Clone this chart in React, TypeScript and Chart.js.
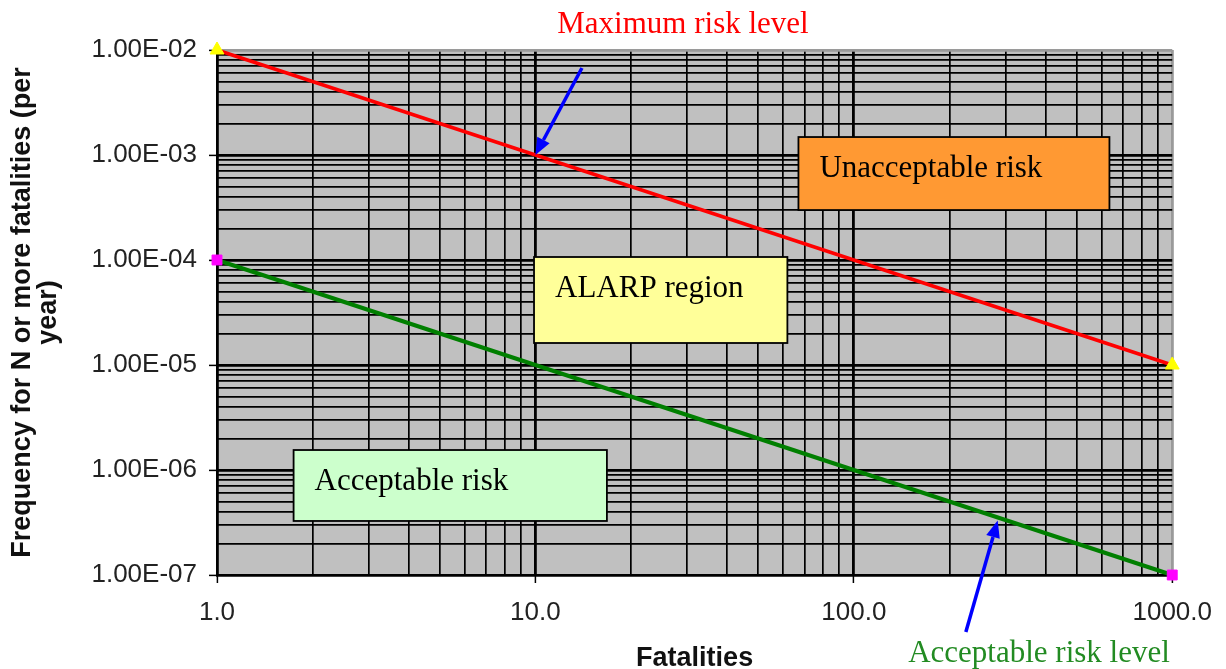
import React, { useEffect, useRef } from 'react';
import { Chart, registerables } from 'chart.js';

Chart.register(...registerables);

// ---- data ----
const xMajorTicks = [1, 10, 100, 1000];
const xTickLabels = ['1.0', '10.0', '100.0', '1000.0'];
const yMajorTicks = [1e-7, 1e-6, 1e-5, 1e-4, 1e-3, 1e-2];
const yTickLabels = ['1.00E-07', '1.00E-06', '1.00E-05', '1.00E-04', '1.00E-03', '1.00E-02'];
const minorMultipliers = [1, 2, 3, 4, 5, 6, 7, 8, 9];

const fatalities = [1, 1000];
const maxRiskFrequency = [1e-2, 1e-5];
const acceptableRiskFrequency = [1e-4, 1e-7];

const regionLabels = ['Unacceptable risk', 'ALARP region', 'Acceptable risk'];
const regionXStart = [67, 9.9, 1.74];
const regionXEnd = [635, 61.85, 16.77];
const regionYTop = [1.483e-3, 1.068e-4, 1.55e-6];
const regionYBottom = [2.99e-4, 1.62e-5, 3.27e-7];
const regionColors = ['#ff9933', '#ffff99', '#ccffcc'];

const arrowTailX = [14.0, 224.8];
const arrowTailY = [6.74e-3, 2.87e-8];
const arrowHeadX = [10, 283];
const arrowHeadY = [1e-3, 3.3e-7];

const topLabel = 'Maximum risk level';
const bottomLabel = 'Acceptable risk level';

const near = (a: number, b: number) => Math.abs(a - b) / Math.abs(b) < 1e-6;

function buildTicks(majors: number[]) {
  const out: { value: number }[] = [];
  majors.forEach((m, i) => {
    if (i === majors.length - 1) {
      out.push({ value: m });
    } else {
      minorMultipliers.forEach((k) => out.push({ value: +(k * m).toPrecision(6) }));
    }
  });
  return out;
}

function labelFor(v: number, majors: number[], labels: string[]) {
  const i = majors.findIndex((m) => near(v, m));
  return i >= 0 ? labels[i] : '';
}

const isMajorOf = (majors: number[]) => (v: number) => majors.some((m) => near(v, m));
const isXMajor = isMajorOf(xMajorTicks);
const isYMajor = isMajorOf(yMajorTicks);

const SANS = '"Liberation Sans", Arial, sans-serif';
const SERIF = '"Liberation Serif", "Times New Roman", serif';

function drawArrow(ctx: CanvasRenderingContext2D, x0: number, y0: number, x1: number, y1: number) {
  const ang = Math.atan2(y1 - y0, x1 - x0);
  const headLen = 17;
  const headW = 7;
  const bx = x1 - headLen * Math.cos(ang);
  const by = y1 - headLen * Math.sin(ang);
  ctx.save();
  ctx.strokeStyle = '#0000ff';
  ctx.fillStyle = '#0000ff';
  ctx.lineWidth = 3.5;
  ctx.beginPath();
  ctx.moveTo(x0, y0);
  ctx.lineTo(bx, by);
  ctx.stroke();
  ctx.beginPath();
  ctx.moveTo(x1, y1);
  ctx.lineTo(bx + headW * Math.sin(ang), by - headW * Math.cos(ang));
  ctx.lineTo(bx - headW * Math.sin(ang), by + headW * Math.cos(ang));
  ctx.closePath();
  ctx.fill();
  ctx.restore();
}

const decorPlugin = {
  id: 'decor',
  beforeDraw(chart: any) {
    const { ctx, chartArea: a } = chart;
    ctx.save();
    ctx.fillStyle = '#c0c0c0';
    ctx.fillRect(a.left, a.top, a.right - a.left, a.bottom - a.top);
    ctx.restore();
  },
  afterDraw(chart: any) {
    const { ctx } = chart;
    const xs = chart.scales.x;
    const ys = chart.scales.y;
    ctx.save();
    regionLabels.forEach((label, i) => {
      const l = xs.getPixelForValue(regionXStart[i]);
      const r = xs.getPixelForValue(regionXEnd[i]);
      const t = ys.getPixelForValue(regionYTop[i]);
      const b = ys.getPixelForValue(regionYBottom[i]);
      ctx.fillStyle = regionColors[i];
      ctx.fillRect(l, t, r - l, b - t);
      ctx.strokeStyle = '#000';
      ctx.lineWidth = 1.8;
      ctx.strokeRect(l, t, r - l, b - t);
      ctx.fillStyle = '#000';
      ctx.font = `31px ${SERIF}`;
      ctx.textAlign = 'left';
      ctx.textBaseline = 'alphabetic';
      ctx.fillText(label, l + 21, t + 40);
    });
    arrowTailX.forEach((_, i) => {
      drawArrow(
        ctx,
        xs.getPixelForValue(arrowTailX[i]),
        ys.getPixelForValue(arrowTailY[i]),
        xs.getPixelForValue(arrowHeadX[i]),
        ys.getPixelForValue(arrowHeadY[i])
      );
    });
    ctx.font = `31px ${SERIF}`;
    ctx.textAlign = 'center';
    ctx.textBaseline = 'alphabetic';
    ctx.fillStyle = '#ff0000';
    ctx.fillText(topLabel, 683, 33);
    ctx.fillStyle = '#228b22';
    ctx.fillText(bottomLabel, 1039, 662);
    ctx.restore();
  },
};

export default function App() {
  const ref = useRef<HTMLCanvasElement | null>(null);
  useEffect(() => {
    document.body.style.margin = '0';
    document.body.style.overflow = 'hidden';
    const canvas = ref.current;
    if (!canvas) return;
    const chart = new Chart(canvas, {
      type: 'line',
      data: {
        datasets: [
          {
            label: 'Maximum risk level',
            data: fatalities.map((x, i) => ({ x, y: maxRiskFrequency[i] })),
            borderColor: '#ff0000',
            borderWidth: 3.5,
            backgroundColor: '#ffff00',
            pointBackgroundColor: '#ffff00',
            pointBorderColor: '#ffff00',
            pointStyle: 'triangle',
            pointRadius: 8,
            pointBorderWidth: 1,
            clip: false as any,
            tension: 0,
          },
          {
            label: 'Acceptable risk level',
            data: fatalities.map((x, i) => ({ x, y: acceptableRiskFrequency[i] })),
            borderColor: '#007f00',
            borderWidth: 4,
            backgroundColor: '#ff00ff',
            pointBackgroundColor: '#ff00ff',
            pointBorderColor: '#ff00ff',
            pointStyle: 'rect',
            pointRadius: 7,
            pointBorderWidth: 1,
            clip: false as any,
            tension: 0,
          },
        ],
      },
      options: {
        responsive: false,
        animation: false,
        events: [],
        layout: { padding: { left: 0, top: 50, right: 51, bottom: 0 } },
        plugins: {
          legend: { display: false },
          tooltip: { enabled: false },
          title: { display: false },
        },
        scales: {
          x: {
            type: 'logarithmic',
            min: 1,
            max: 1000,
            afterBuildTicks: (scale: any) => {
              scale.ticks = buildTicks(xMajorTicks);
            },
            afterFit: (scale: any) => {
              scale.height = 94;
            },
            ticks: {
              autoSkip: false,
              maxRotation: 0,
              minRotation: 0,
              padding: 14,
              color: '#222',
              font: { family: SANS, size: 26 },
              callback: (v: any) => labelFor(Number(v), xMajorTicks, xTickLabels),
            },
            grid: {
              color: (c: any) => (c.tick && near(c.tick.value, 1000) ? '#9a9a9a' : '#000'),
              lineWidth: (c: any) => (c.tick && isXMajor(c.tick.value) ? 2.8 : 1.7),
              tickColor: (c: any) => (c.tick && isXMajor(c.tick.value) ? '#000' : 'rgba(0,0,0,0)'),
              tickWidth: 1.5,
              tickLength: 8,
            },
            border: { color: '#000', width: 2 },
            title: {
              display: true,
              text: 'Fatalities',
              color: '#111',
              font: { family: SANS, size: 27, weight: 'bold', lineHeight: 0.8 },
              padding: { top: 0, bottom: 0 },
            },
          },
          y: {
            type: 'logarithmic',
            min: 1e-7,
            max: 1e-2,
            afterBuildTicks: (scale: any) => {
              scale.ticks = buildTicks(yMajorTicks);
            },
            afterFit: (scale: any) => {
              scale.width = 217;
            },
            ticks: {
              autoSkip: false,
              padding: 12,
              color: '#222',
              font: { family: SANS, size: 26 },
              callback: (v: any) => labelFor(Number(v), yMajorTicks, yTickLabels),
            },
            grid: {
              color: (c: any) => (c.tick && near(c.tick.value, 1e-2) ? '#9a9a9a' : '#000'),
              lineWidth: (c: any) => (c.tick && isYMajor(c.tick.value) ? 2.8 : 1.7),
              tickColor: (c: any) => (c.tick && isYMajor(c.tick.value) ? '#000' : 'rgba(0,0,0,0)'),
              tickWidth: 1.5,
              tickLength: 8,
            },
            border: { color: '#000', width: 2 },
            title: {
              display: true,
              text: ['Frequency for N or more fatalities (per', 'year)'],
              color: '#111',
              font: { family: SANS, size: 27, weight: 'bold', lineHeight: 0.96 },
              padding: { top: 10, bottom: 0 },
            },
          },
        },
      } as any,
      plugins: [decorPlugin],
    });
    return () => chart.destroy();
  }, []);
  return (
    <div style={{ width: 1226, height: 669 }}>
      <canvas ref={ref} width={1226} height={669} style={{ display: 'block', width: 1226, height: 669 }} />
    </div>
  );
}
